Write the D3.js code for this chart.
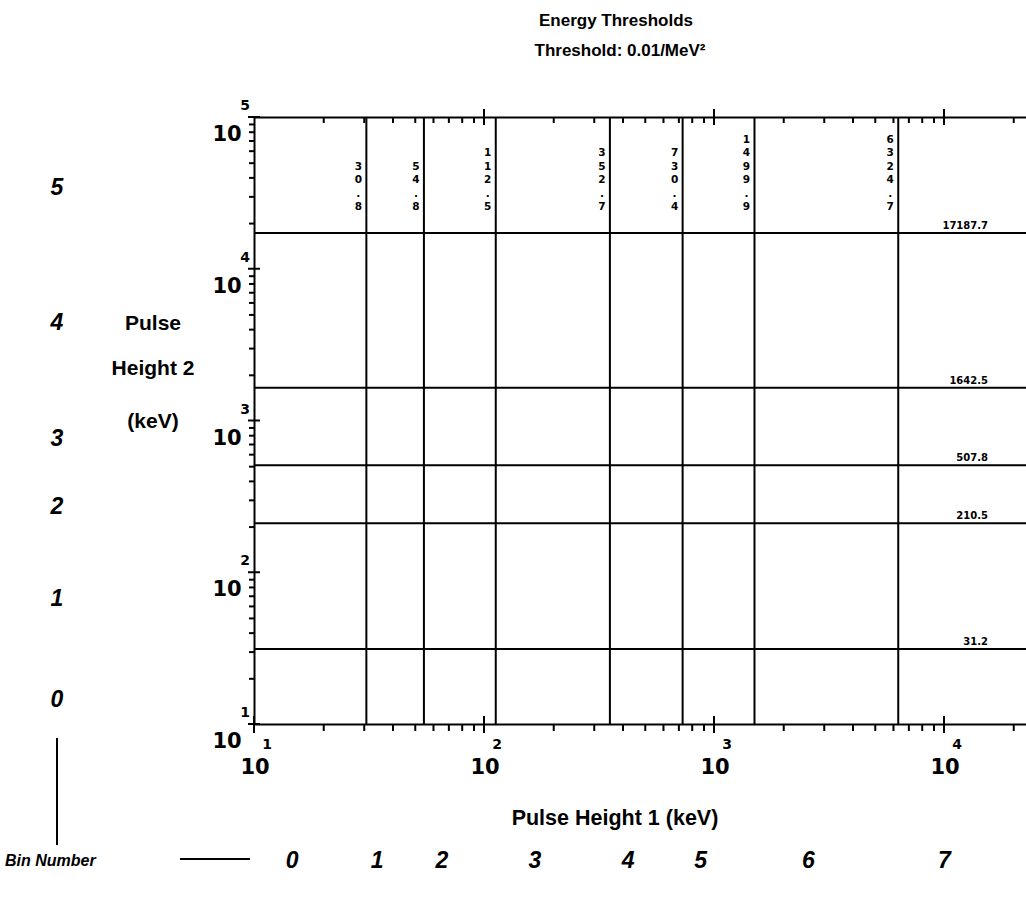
<!DOCTYPE html>
<html>
<head>
<meta charset="utf-8">
<script src="https://cdn.jsdelivr.net/npm/d3@7"></script>
<style>
  html, body { margin: 0; padding: 0; background: #fff; }
  svg { display: block; }
  .txt { font-family: "Liberation Sans", Arial, sans-serif; font-weight: bold; fill: #000; }
  .num { font-family: "DejaVu Sans", sans-serif; font-weight: bold; fill: #000; }
  .ital { font-family: "Liberation Sans", Arial, sans-serif; font-weight: bold; font-style: italic; fill: #000; }
</style>
</head>
<body>
<svg id="chart" width="1026" height="908"></svg>
<script>
// ---------------- data ----------------
const titleText = "Energy Thresholds";
const subtitleText = "Threshold: 0.01/MeV\u00B2";
const xAxisTitle = "Pulse Height 1 (keV)";
const yAxisTitleLines = ["Pulse", "Height 2", "(keV)"];
const binLabelText = "Bin Number";

// thresholds on pulse height 1 (vertical lines), keV
const xThresholds = [30.8, 54.8, 112.5, 352.7, 730.4, 1499.9, 6324.7];
const xThresholdLabels = ["30.8", "54.8", "112.5", "352.7", "730.4", "1499.9", "6324.7"];
// thresholds on pulse height 2 (horizontal lines), keV
const yThresholds = [31.2, 210.5, 507.8, 1642.5, 17187.7];
const yThresholdLabels = ["31.2", "210.5", "507.8", "1642.5", "17187.7"];

// bin numbers
const xBins = [0, 1, 2, 3, 4, 5, 6, 7];
const yBins = [0, 1, 2, 3, 4, 5];

// axis decade exponents
const xDecades = [1, 2, 3, 4];
const yDecades = [1, 2, 3, 4, 5];

// ---------------- layout ----------------
const svg = d3.select("#chart");
const pLeft = 254, pTop = 117, pBottom = 724;
const xMaxExp = 4.36;
const xMax = Math.pow(10, xMaxExp);
const pRight = pLeft + 230 * (xMaxExp - 1);

const x = d3.scaleLog().domain([10, xMax]).range([pLeft, pRight]);
const y = d3.scaleLog().domain([10, 1e5]).range([pBottom, pTop]);

function minorTicks(scale) {
  const [a, b] = scale.domain();
  const out = [];
  for (let e = Math.floor(Math.log10(a)); e <= Math.ceil(Math.log10(b)); e++) {
    for (let m = 2; m <= 9; m++) {
      const v = m * Math.pow(10, e);
      if (v > a && v < b) out.push(v);
    }
  }
  return out;
}
const xMajor = xDecades.map(e => Math.pow(10, e));
const yMajor = yDecades.map(e => Math.pow(10, e));

const lineStyle = g => g.selectAll("path, line").attr("stroke", "#000").attr("stroke-width", 2);

// ---- threshold lines ----
svg.append("g").selectAll("line").data(yThresholds).join("line")
  .attr("x1", pLeft).attr("x2", 1026)
  .attr("y1", d => y(d)).attr("y2", d => y(d))
  .attr("stroke", "#000").attr("stroke-width", 2);

svg.append("g").selectAll("line").data(xThresholds).join("line")
  .attr("x1", d => x(d)).attr("x2", d => x(d))
  .attr("y1", pTop).attr("y2", pBottom)
  .attr("stroke", "#000").attr("stroke-width", 2);

// ---- axes ----
// bottom: minor ticks outward, major crossing
svg.append("g").attr("transform", `translate(0,${pBottom})`)
  .call(d3.axisBottom(x).tickValues(minorTicks(x)).tickSize(7).tickSizeOuter(0).tickFormat(""))
  .call(lineStyle);
svg.append("g").selectAll("line").data(xMajor).join("line")
  .attr("x1", d => x(d)).attr("x2", d => x(d))
  .attr("y1", pBottom - 8).attr("y2", pBottom + 9)
  .attr("stroke", "#000").attr("stroke-width", 2);

// top: minor ticks inward
svg.append("g").attr("transform", `translate(0,${pTop})`)
  .call(d3.axisBottom(x).tickValues(minorTicks(x)).tickSize(6).tickSizeOuter(0).tickFormat(""))
  .call(lineStyle);
svg.append("g").selectAll("line").data(xMajor.filter(v => v > 10)).join("line")
  .attr("x1", d => x(d)).attr("x2", d => x(d))
  .attr("y1", pTop - 8).attr("y2", pTop + 8)
  .attr("stroke", "#000").attr("stroke-width", 2);

// left: minor ticks outward, major crossing
svg.append("g").attr("transform", `translate(${pLeft},0)`)
  .call(d3.axisLeft(y).tickValues(minorTicks(y)).tickSize(5).tickSizeOuter(0).tickFormat(""))
  .call(lineStyle);
svg.append("g").selectAll("line").data(yMajor).join("line")
  .attr("x1", pLeft - 6).attr("x2", pLeft + 6)
  .attr("y1", d => y(d)).attr("y2", d => y(d))
  .attr("stroke", "#000").attr("stroke-width", 2);

// ---- axis labels 10^n ----
const yl = svg.append("g").selectAll("g").data(yDecades).join("g")
  .attr("transform", d => `translate(227,${y(Math.pow(10, d))})`);
yl.append("text").attr("class", "num").attr("text-anchor", "middle")
  .attr("y", 24).attr("font-size", 21).text("10");
yl.append("text").attr("class", "num").attr("text-anchor", "middle")
  .attr("x", 18).attr("y", -7).attr("font-size", 14).text(d => d);

const xl = svg.append("g").selectAll("g").data(xDecades).join("g")
  .attr("transform", d => `translate(${x(Math.pow(10, d)) + 1},${pBottom})`);
xl.append("text").attr("class", "num").attr("text-anchor", "middle")
  .attr("y", 50).attr("font-size", 21).text("10");
xl.append("text").attr("class", "num").attr("text-anchor", "middle")
  .attr("x", 12).attr("y", 25).attr("font-size", 14).text(d => d);

// ---- threshold value labels ----
// vertical (stacked characters, bottom aligned)
const step = 13.5;
const vl = svg.append("g").selectAll("g").data(xThresholds).join("g")
  .attr("transform", d => `translate(${x(d) - 8},206)`);
vl.each(function(d, i) {
  const chars = xThresholdLabels[i].split("");
  d3.select(this).selectAll("text").data(chars).join("text")
    .attr("class", "num").attr("text-anchor", "middle").attr("font-size", 10.5)
    .attr("y", (c, j) => (j - (chars.length - 1)) * step + 4)
    .text(c => c);
});
// horizontal
svg.append("g").selectAll("text").data(yThresholds).join("text")
  .attr("class", "num").attr("text-anchor", "end").attr("font-size", 10)
  .attr("x", 988).attr("y", d => y(d) - 4)
  .text((d, i) => yThresholdLabels[i]);

// ---- titles ----
svg.append("text").attr("class", "txt").attr("text-anchor", "middle")
  .attr("x", 616).attr("y", 26).attr("font-size", 17).text(titleText);
svg.append("text").attr("class", "txt").attr("text-anchor", "middle")
  .attr("x", 620).attr("y", 56).attr("font-size", 17).text(subtitleText);
svg.append("text").attr("class", "txt").attr("text-anchor", "middle")
  .attr("x", 615).attr("y", 825).attr("font-size", 21.5).text(xAxisTitle);
svg.append("g").selectAll("text").data(yAxisTitleLines).join("text")
  .attr("class", "txt").attr("text-anchor", "middle").attr("font-size", 21)
  .attr("x", 153).attr("y", (d, i) => [330, 375, 428][i]).text(d => d);

// ---- bin numbers ----
const xEdges = [10, ...xThresholds, xMax];
const yEdges = [10, ...yThresholds, 1e5];
const logMid = (a, b) => Math.sqrt(a * b);

svg.append("g").selectAll("text").data(xBins).join("text")
  .attr("class", "ital").attr("text-anchor", "middle").attr("font-size", 23)
  .attr("x", d => x(logMid(xEdges[d], xEdges[d + 1])) - 18)
  .attr("y", 868).text(d => d);

svg.append("g").selectAll("text").data(yBins).join("text")
  .attr("class", "ital").attr("text-anchor", "middle").attr("font-size", 23)
  .attr("x", 57)
  .attr("y", d => y(logMid(yEdges[d], yEdges[d + 1])) + 20).text(d => d);

svg.append("text").attr("class", "ital").attr("x", 5).attr("y", 866)
  .attr("font-size", 16).text(binLabelText);
svg.append("line").attr("x1", 180).attr("x2", 250).attr("y1", 859).attr("y2", 859)
  .attr("stroke", "#000").attr("stroke-width", 2);
svg.append("line").attr("x1", 57).attr("x2", 57).attr("y1", 738).attr("y2", 845)
  .attr("stroke", "#000").attr("stroke-width", 2);
</script>
</body>
</html>
